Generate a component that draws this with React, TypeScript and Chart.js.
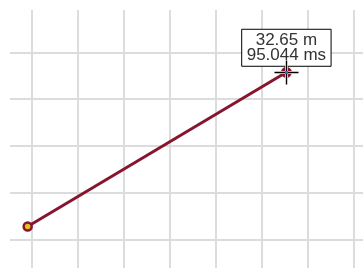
import React, { useEffect, useRef } from "react";
import { Chart, registerables } from "chart.js";

Chart.register(...registerables);

// Data
const distances = [4.53, 32.65]; // m
const times = [62.1, 95.044]; // ms
const xTickValues = [5, 10, 15, 20, 25, 30, 35, 40];
const yTickValues = [99.23, 89.23, 79.23, 69.23, 59.23];
const xRange = [2.61, 41.52];
const yRange = [51.09, 108.35];
const activeIndex = 1;

const LINE = "#86162f";
const FONT = "Arial, 'Liberation Sans', sans-serif";

const crosshair = {
  id: "crosshair",
  afterDraw(chart: any) {
    const meta = chart.getDatasetMeta(0);
    const pt = meta.data[activeIndex];
    if (!pt) return;
    const ctx = chart.ctx;
    const x = Math.round(pt.x) + 0.5;
    const y = Math.round(pt.y) + 0.5;
    const a = 12;
    ctx.save();
    ctx.lineCap = "butt";
    ctx.strokeStyle = "rgba(255,255,255,0.9)";
    ctx.lineWidth = 3;
    ctx.beginPath();
    ctx.moveTo(x - a, y); ctx.lineTo(x + a, y);
    ctx.moveTo(x, y - a); ctx.lineTo(x, y + a);
    ctx.stroke();
    ctx.strokeStyle = "#000";
    ctx.lineWidth = 1.4;
    ctx.beginPath();
    ctx.moveTo(x - a, y); ctx.lineTo(x + a, y);
    ctx.moveTo(x, y - a); ctx.lineTo(x, y + a);
    ctx.stroke();
    ctx.fillStyle = "#2a6fd6";
    ctx.fillRect(x - 1.5, y - 1.5, 3, 3);
    ctx.restore();
  },
};

export default function App() {
  const ref = useRef<HTMLCanvasElement>(null);
  useEffect(() => {
    document.documentElement.style.overflow = "hidden";
    document.body.style.overflow = "hidden";
    const canvas = ref.current!;
    const chart = new Chart(canvas, {
      type: "line",
      data: {
        datasets: [
          {
            data: distances.map((d, i) => ({ x: d, y: times[i] })),
            borderColor: LINE,
            borderWidth: 3,
            pointBackgroundColor: ["#e6c21c", LINE],
            pointBorderColor: LINE,
            pointBorderWidth: 2.5,
            pointRadius: 4,
            pointHoverRadius: 4.5,
            pointHoverBorderWidth: 2,
            pointHoverBackgroundColor: LINE,
            pointHoverBorderColor: LINE,
            tension: 0,
          },
        ],
      },
      options: {
        responsive: false,
        animation: false,
        events: [],
        layout: { autoPadding: false, padding: { left: 2, top: 2, right: 0, bottom: 0 } },
        scales: {
          x: {
            type: "linear",
            min: xRange[0],
            max: xRange[1],
            afterBuildTicks: (s: any) => {
              s.ticks = xTickValues.map((v) => ({ value: v }));
            },
            ticks: { display: false },
            border: { display: false },
            grid: { color: "#dcdcdc", lineWidth: 2, drawTicks: false },
          },
          y: {
            type: "linear",
            min: yRange[0],
            max: yRange[1],
            afterBuildTicks: (s: any) => {
              s.ticks = yTickValues.map((v) => ({ value: v }));
            },
            ticks: { display: false },
            border: { display: false },
            grid: { color: "#dcdcdc", lineWidth: 2, drawTicks: false },
          },
        },
        plugins: {
          legend: { display: false },
          tooltip: {
            enabled: true,
            backgroundColor: "#ffffff",
            borderColor: "#000000",
            borderWidth: 1,
            cornerRadius: 0,
            bodyColor: "#333333",
            bodyFont: { family: FONT, size: 17, lineHeight: "15px" } as any,
            bodyAlign: "center",
            bodySpacing: 0,
            padding: { x: 5, y: 3.5 } as any,
            displayColors: false,
            caretSize: 0,
            caretPadding: 6,
            yAlign: "bottom",
            xAlign: "center",
            callbacks: {
              title: () => "",
              label: (ctx: any) => [
                `${distances[ctx.dataIndex]} m`,
                `${times[ctx.dataIndex]} ms`,
              ],
            },
          },
        },
      },
      plugins: [crosshair],
    } as any);
    const pt = chart.getDatasetMeta(0).data[activeIndex];
    chart.setActiveElements([{ datasetIndex: 0, index: activeIndex }]);
    chart.tooltip!.setActiveElements(
      [{ datasetIndex: 0, index: activeIndex }],
      { x: pt.x, y: pt.y }
    );
    chart.update();
    return () => chart.destroy();
  }, []);
  return (
    <div
      style={{
        position: "fixed",
        left: 8,
        top: 8,
        width: 355,
        height: 260,
        overflow: "hidden",
      }}
    >
      <canvas ref={ref} width={360} height={270} style={{ display: "block" }} />
    </div>
  );
}
